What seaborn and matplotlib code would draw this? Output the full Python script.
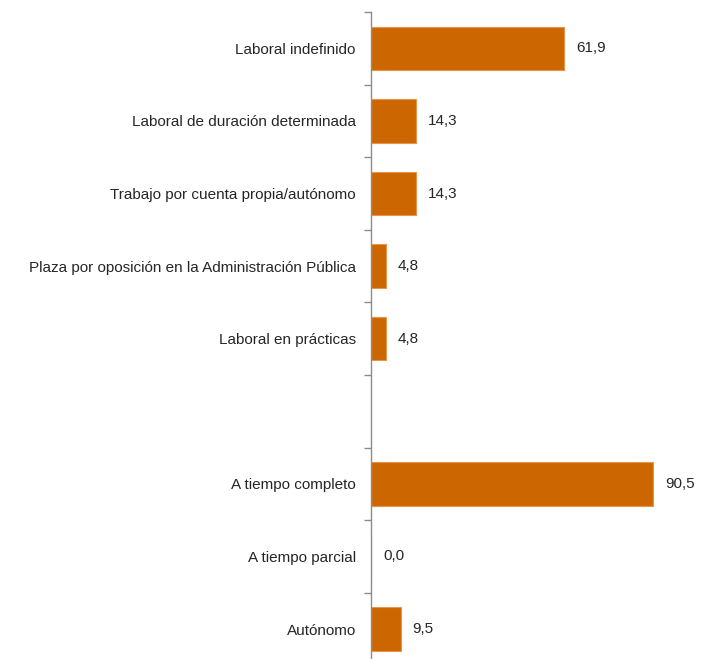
import matplotlib
matplotlib.use("Agg")
import matplotlib.pyplot as plt
import seaborn as sns
import pandas as pd
import numpy as np

# Contract type shares (%)
contract_labels = [
    "Laboral indefinido",
    "Laboral de duración determinada",
    "Trabajo por cuenta propia/autónomo",
    "Plaza por oposición en la Administración Pública",
    "Laboral en prácticas",
]
contract_values = [61.9, 14.3, 14.3, 4.8, 4.8]

# Working time shares (%)
schedule_labels = ["A tiempo completo", "A tiempo parcial", "Autónomo"]
schedule_values = [90.5, 0.0, 9.5]

spacer = ""
order = contract_labels + [spacer] + schedule_labels
df = pd.DataFrame({
    "categoria": contract_labels + schedule_labels,
    "valor": contract_values + schedule_values,
})

sns.set_style("white")
plt.rcParams["font.family"] = ["Liberation Sans", "DejaVu Sans"]

fig = plt.figure(figsize=(7.04, 6.59), dpi=100)
W, H = 704, 659
top_px, slot_px = 12, 72.6
n = len(order)
ax = fig.add_axes([371 / W, (H - top_px - n * slot_px) / H, 312 / W, n * slot_px / H])

bar_color = "#CC6600"
sns.barplot(data=df, x="valor", y="categoria", order=order, orient="h",
            color=bar_color, saturation=1, width=0.6,
            edgecolor="#E8944A", linewidth=0.8, ax=ax)

ax.set_xlim(0, 100)
ax.set_ylim(n - 0.5, -0.5)
ax.set_xlabel("")
ax.set_ylabel("")

for spine in ["top", "right", "bottom"]:
    ax.spines[spine].set_visible(False)
ax.spines["left"].set_color("#8C8C8C")
ax.spines["left"].set_linewidth(1.0)

label_size = 11
ax.set_xticks([])
ax.set_yticks(range(n))
ax.set_yticklabels(order, fontsize=label_size, color="#262626")
ax.tick_params(axis="y", which="major", length=0, pad=11)
ax.set_yticks(np.arange(-0.5, n, 1.0), minor=True)
ax.tick_params(axis="y", which="minor", length=5, width=1.0, color="#8C8C8C", left=True)

for i, cat in enumerate(order):
    if cat == spacer:
        continue
    v = df.loc[df["categoria"] == cat, "valor"].iloc[0]
    ax.annotate(f"{v:.1f}".replace(".", ","), xy=(v, i), xytext=(12, 0),
                textcoords="offset pixels", ha="left", va="center",
                fontsize=label_size, color="#262626")

fig.savefig("out.png", dpi=100)
